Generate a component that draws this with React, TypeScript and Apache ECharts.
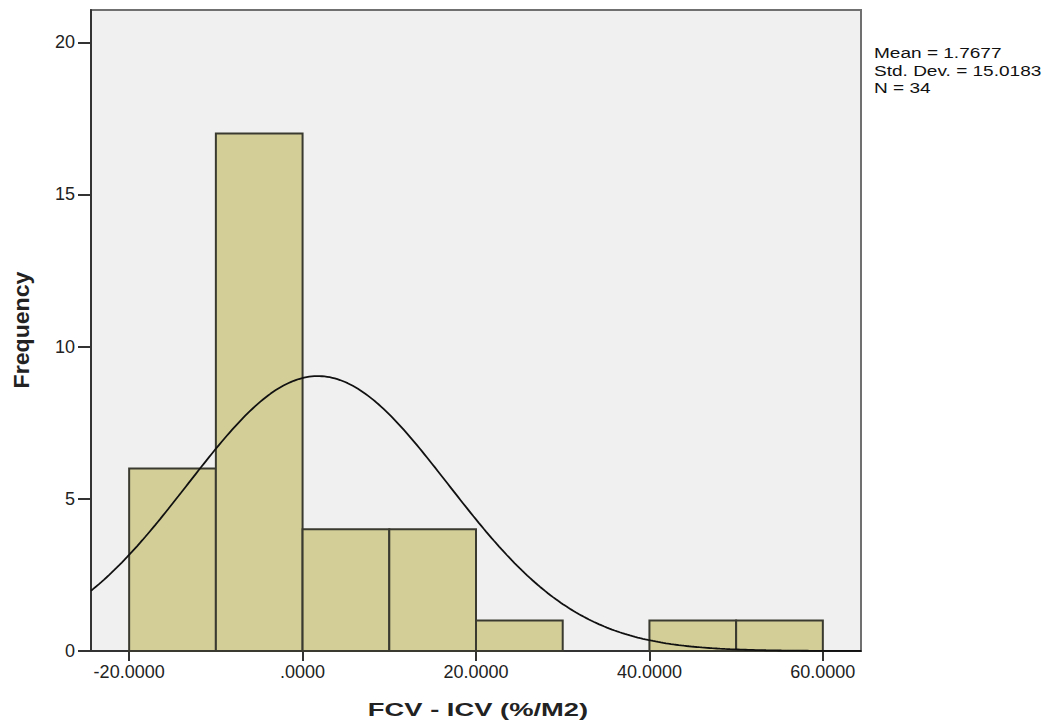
import React, { useEffect, useRef } from "react";
import * as echarts from "echarts";

// Histogram bins (lower edge) and their frequencies
const binStarts = [-20, -10, 0, 10, 20, 30, 40, 50];
const binCounts = [6, 17, 4, 4, 1, 0, 1, 1];
const binWidth = 10;

// Summary statistics shown in the legend text
const meanValue = 1.7677;
const stdDev = 15.0183;
const sampleN = 34;

const xTicks = [-20, 0, 20, 40, 60];
const yTicks = [0, 5, 10, 15, 20];

const xMin = -24.4;
const xMax = 64.4;
const yMax = 21.06;

const xTitle = "FCV - ICV (%/M2)";
const yTitle = "Frequency";

// Normal curve scaled to histogram counts, from the stated mean / SD / N
function normalCurve(): number[][] {
  const pts: number[][] = [];
  const scale = (sampleN * binWidth) / (stdDev * Math.sqrt(2 * Math.PI));
  const steps = 300;
  for (let i = 0; i <= steps; i++) {
    const x = xMin + ((xMax - xMin) * i) / steps;
    const z = (x - meanValue) / stdDev;
    pts.push([x, scale * Math.exp(-0.5 * z * z)]);
  }
  return pts;
}

function fmtX(v: number): string {
  const s = v.toFixed(4);
  if (s === "0.0000") return ".0000";
  return s;
}

export default function App() {
  const ref = useRef<HTMLDivElement>(null);

  useEffect(() => {
    if (!ref.current) return;
    const chart = echarts.init(ref.current, null, { renderer: "svg" });
    const font = "'Liberation Sans', Arial, sans-serif";

    const histData = binStarts.map((s, i) => [s, s + binWidth, binCounts[i]]);

    chart.setOption({
      animation: false,
      textStyle: { fontFamily: font },
      grid: {
        left: 91,
        right: 200,
        top: 10,
        bottom: 74,
        show: true,
        backgroundColor: "#f0f0f0",
        borderColor: "#707070",
        borderWidth: 2,
      },
      xAxis: {
        type: "value",
        min: xMin,
        max: xMax,
        axisLine: { show: true, onZero: false, lineStyle: { color: "#333", width: 2 } },
        axisTick: { show: true, length: 10, customValues: xTicks, lineStyle: { color: "#333", width: 2 } },
        axisLabel: {
          customValues: xTicks,
          formatter: (v: number) => fmtX(v),
          fontSize: 18,
          color: "#222",
          margin: 12,
          fontFamily: font,
        },
        splitLine: { show: false },
      },
      yAxis: {
        type: "value",
        min: 0,
        max: yMax,
        axisLine: { show: true, onZero: false, lineStyle: { color: "#333", width: 2 } },
        axisTick: { show: true, length: 13, customValues: yTicks, lineStyle: { color: "#333", width: 2 } },
        axisLabel: {
          customValues: yTicks,
          fontSize: 18,
          color: "#222",
          margin: 16,
          fontFamily: font,
        },
        splitLine: { show: false },
      },
      series: [
        {
          type: "custom",
          data: histData,
          encode: { x: [0, 1], y: 2 },
          renderItem: (params: any, api: any) => {
            const x0 = api.value(0);
            const x1 = api.value(1);
            const h = api.value(2);
            if (!h) return null;
            const p0 = api.coord([x0, h]);
            const p1 = api.coord([x1, 0]);
            return {
              type: "rect",
              shape: { x: p0[0], y: p0[1], width: p1[0] - p0[0], height: p1[1] - p0[1] },
              style: { fill: "#d3ce98", stroke: "#3a3a30", lineWidth: 2 },
            };
          },
          z: 2,
        },
        {
          type: "line",
          data: normalCurve(),
          showSymbol: false,
          smooth: false,
          lineStyle: { color: "#111", width: 1.8 },
          z: 3,
        },
      ],
      graphic: [
        {
          type: "text",
          x: 874,
          y: 44.5,
          scaleX: 1.27,
          style: {
            text: `Mean = ${meanValue}\nStd. Dev. = ${stdDev}\nN = ${sampleN}`,
            font: `15px ${font}`,
            lineHeight: 17.5,
            verticalAlign: "top",
            align: "left",
            fill: "#111",
          },
        },
        {
          type: "text",
          x: 478,
          y: 710,
          scaleX: 1.44,
          style: {
            text: xTitle,
            font: `bold 19px ${font}`,
            align: "center",
            verticalAlign: "middle",
            fill: "#222",
          },
        },
        {
          type: "text",
          x: 22,
          y: 330,
          rotation: Math.PI / 2,
          scaleX: 1.05,
          style: {
            text: yTitle,
            font: `bold 22px ${font}`,
            align: "center",
            verticalAlign: "middle",
            fill: "#222",
          },
        },
      ],
    });

    return () => chart.dispose();
  }, []);

  return (
    <div
      ref={ref}
      style={{ position: "absolute", left: 0, top: 0, width: 1061, height: 725 }}
    />
  );
}
